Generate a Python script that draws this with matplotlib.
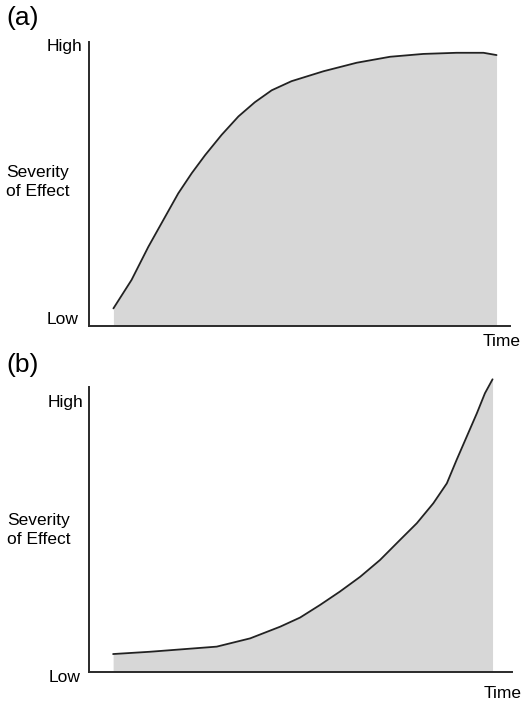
import matplotlib
matplotlib.use("Agg")
import matplotlib.pyplot as plt

plt.rcParams['font.family'] = ['Liberation Sans', 'DejaVu Sans']

# Panel (a): severity rises quickly then levels off
time_a = [5.8, 10.1, 14.1, 18.1, 21.2, 24.4, 27.6, 31.5, 35.5, 39.4, 43.4, 48.1,
          55.7, 63.6, 71.5, 79.4, 87.3, 93.7, 96.8]
sev_a = [6.2, 16.2, 27.9, 38.5, 46.7, 53.8, 60.2, 67.3, 73.8, 78.8, 83.0, 86.2,
         89.7, 92.7, 94.8, 95.8, 96.2, 96.2, 95.4]

# Panel (b): severity stays low then accelerates
time_b = [5.7, 14.4, 22.3, 30.2, 38.1, 45.2, 49.9, 54.6, 59.3, 64.1, 68.8, 73.5,
          77.5, 81.4, 84.6, 86.9, 89.3, 91.7, 93.6, 95.4]
sev_b = [6.3, 7.1, 8.0, 8.9, 11.8, 15.9, 19.1, 23.5, 28.2, 33.4, 39.3, 46.3,
         52.2, 59.2, 66.2, 74.4, 82.6, 90.8, 97.8, 102.7]

panel_labels = ["(a)", "(b)"]
y_title = "Severity\nof Effect"
x_title = "Time"
y_high, y_low = "High", "Low"

W, H = 523, 703
fig = plt.figure(figsize=(W / 100, H / 100), dpi=100)
fig.patch.set_facecolor("white")


def fx(px):
    return px / W


def fy(py):
    return 1 - py / H


# axes boxes in pixels: left, right, top, bottom
boxes = [(89, 510, 42, 326), (89, 512, 387, 672)]
datasets = [(time_a, sev_a), (time_b, sev_b)]
fill_col = "#d7d7d7"

for (l, r, t, b), (tt, ss) in zip(boxes, datasets):
    ax = fig.add_axes([fx(l), fy(b), fx(r) - fx(l), fy(t) - fy(b)])
    ax.set_xlim(0, 100)
    ax.set_ylim(0, 100)
    ax.fill_between(tt, 0, ss, color=fill_col, linewidth=0, clip_on=False)
    ax.plot(tt, ss, color="#222222", linewidth=1.3, clip_on=False,
            solid_capstyle="round", solid_joinstyle="round")
    for side in ("top", "right"):
        ax.spines[side].set_visible(False)
    for side in ("left", "bottom"):
        ax.spines[side].set_color("#2a2a2a")
        ax.spines[side].set_linewidth(1.4)
    ax.set_xticks([])
    ax.set_yticks([])
    ax.patch.set_alpha(0)

fs = 12.5
# text for panel (a)
fig.text(fx(6), fy(18), panel_labels[0], fontsize=19, ha="left", va="center")
fig.text(fx(82), fy(46), y_high, fontsize=fs, ha="right", va="center")
fig.text(fx(79), fy(320), y_low, fontsize=fs, ha="right", va="center")
fig.text(fx(6), fy(182), y_title, fontsize=fs, ha="left", va="center",
         linespacing=1.3)
fig.text(fx(521), fy(342), x_title, fontsize=fs, ha="right", va="center")

# text for panel (b)
fig.text(fx(6), fy(365), panel_labels[1], fontsize=19, ha="left", va="center")
fig.text(fx(83), fy(402), y_high, fontsize=fs, ha="right", va="center")
fig.text(fx(80), fy(677), y_low, fontsize=fs, ha="right", va="center")
fig.text(fx(7), fy(530), y_title, fontsize=fs, ha="left", va="center",
         linespacing=1.3)
fig.text(fx(522), fy(693), x_title, fontsize=fs, ha="right", va="center")

fig.savefig("out.png", dpi=100, facecolor="white")
